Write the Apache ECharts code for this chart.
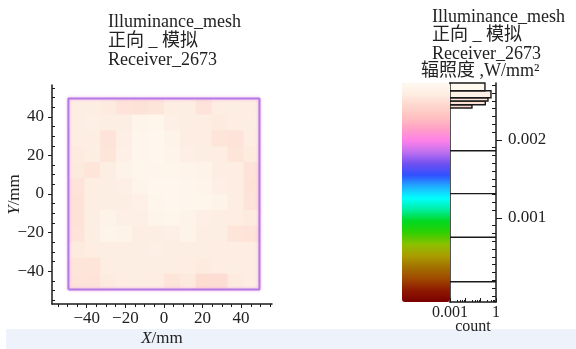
<!DOCTYPE html>
<html>
<head>
<meta charset="utf-8">
<script src="https://cdn.jsdelivr.net/npm/echarts@6/dist/echarts.min.js"></script>
<style>html,body{margin:0;padding:0;background:#fff;}#c{width:576px;height:349px;}</style>
</head>
<body>
<div id="c"></div>
<script>
// ---- data ----
const xCenters = [-45.4, -37.1, -28.9, -20.6, -12.4, -4.1, 4.1, 12.4, 20.6, 28.9, 37.1, 45.4];
const yCenters = [45.4, 37.1, 28.9, 20.6, 12.4, 4.1, -4.1, -12.4, -20.6, -28.9, -37.1, -45.4];
// irradiance W/mm^2, rows top->bottom
const heatValues = [
  [0.00259,0.00260,0.00257,0.00252,0.00251,0.00253,0.00258,0.00259,0.00252,0.00258,0.00259,0.00258],
  [0.00259,0.00261,0.00259,0.00260,0.00267,0.00268,0.00261,0.00259,0.00258,0.00257,0.00258,0.00259],
  [0.00258,0.00260,0.00252,0.00261,0.00269,0.00270,0.00266,0.00260,0.00258,0.00253,0.00252,0.00258],
  [0.00257,0.00259,0.00253,0.00262,0.00269,0.00270,0.00267,0.00261,0.00259,0.00258,0.00253,0.00257],
  [0.00256,0.00253,0.00259,0.00266,0.00268,0.00269,0.00268,0.00267,0.00266,0.00260,0.00258,0.00252],
  [0.00252,0.00258,0.00260,0.00261,0.00267,0.00270,0.00270,0.00269,0.00267,0.00261,0.00258,0.00251],
  [0.00251,0.00258,0.00260,0.00260,0.00262,0.00268,0.00270,0.00269,0.00268,0.00266,0.00259,0.00252],
  [0.00251,0.00259,0.00266,0.00261,0.00261,0.00267,0.00268,0.00266,0.00261,0.00260,0.00258,0.00257],
  [0.00252,0.00259,0.00267,0.00266,0.00260,0.00260,0.00261,0.00266,0.00260,0.00259,0.00253,0.00252],
  [0.00257,0.00258,0.00260,0.00259,0.00260,0.00261,0.00260,0.00259,0.00259,0.00258,0.00258,0.00258],
  [0.00253,0.00253,0.00258,0.00259,0.00259,0.00260,0.00259,0.00258,0.00257,0.00258,0.00259,0.00258],
  [0.00252,0.00252,0.00257,0.00258,0.00259,0.00258,0.00253,0.00256,0.00247,0.00248,0.00257,0.00258]
];
const receiverBounds = [-49.5, 49.5];
const xMajor = [-40, -20, 0, 20, 40];
const xMinor = [-55,-50,-45,-35,-30,-25,-15,-10,-5,5,10,15,25,30,35,45,50,55];
const yMajor = [-40, -20, 0, 20, 40];
const yMinor = [-55,-50,-45,-35,-30,-25,-15,-10,-5,5,10,15,25,30,35,45,50,55];
const histEdgesLow  = [0.00241, 0.00245, 0.00250, 0.00254, 0.00263];
const histEdgesHigh = [0.00245, 0.00250, 0.00254, 0.00263, 0.00273];
const histCounts    = [0.027, 0.2, 0.3, 0.47, 0.19];
const histLineLevels = [0.00018, 0.00075, 0.00131, 0.00186];
const irrMajor = [0.001, 0.002];
const irrMinor = [0.0000,0.0001,0.0002,0.0003,0.0004,0.0005,0.0006,0.0007,0.0008,0.0009,
                  0.0011,0.0012,0.0013,0.0014,0.0015,0.0016,0.0017,0.0018,0.0019,
                  0.0021,0.0022,0.0023,0.0024,0.0025,0.0026,0.0027];
const vMin = -0.00008, vMax = 0.00273;
const palette = ['#7a0000','#8e1800','#a04800','#a27000','#aa9c00','#8cc000','#30d000','#00d820',
  '#00eea0','#00ffff','#20b0ff','#3050ff','#7050f0','#c070f0','#ff80e8','#ffa0c8','#ffc0c0',
  '#fdd6cc','#fdede2','#fff9f0'];

// ---- build ----
const heatData = [];
heatValues.forEach((row, r) => row.forEach((v, c) => heatData.push([xCenters[c], yCenters[r], v])));
const cellSize = 8.25;
const borderData = [
  [receiverBounds[0], receiverBounds[0]], [receiverBounds[1], receiverBounds[0]],
  [receiverBounds[1], receiverBounds[1]], [receiverBounds[0], receiverBounds[1]],
  [receiverBounds[0], receiverBounds[0]]
];
const histData = histCounts.map((c, i) => [c, histEdgesLow[i], histEdgesHigh[i]]);
const histLineData = histLineLevels.map(v => [1, v]);

const FONT = "'Liberation Serif', 'Noto Sans CJK SC', serif";
const ink = '#1a1a1a';
const titleStyle = {fontSize: 18, lineHeight: 18.5, fontFamily: FONT, fontWeight: 'normal', color: '#222'};

const chart = echarts.init(document.getElementById('c'));
chart.setOption({
  animation: false,
  backgroundColor: '#fff',
  title: [
    {left: 108, top: 13, padding: 0, text: 'Illuminance_mesh\n正向 _ 模拟\nReceiver_2673', textStyle: Object.assign({}, titleStyle, {lineHeight: 19})},
    {left: 432, top: 8, padding: 0, text: 'Illuminance_mesh\n正向 _ 模拟\nReceiver_2673', textStyle: titleStyle},
    {left: 421, top: 62, padding: 0, text: '辐照度 ,W/mm²', textStyle: titleStyle}
  ],
  graphic: {
    z: -10,
    elements: [{type: 'rect', z: -10, shape: {x: 6, y: 329, width: 570, height: 20}, style: {fill: '#eef3fb'}}]
  },
  grid: [
    {left: 52, top: 85, width: 220, height: 219, containLabel: false, outerBoundsMode: 'none'},
    {left: 450, top: 83, width: 46, height: 219, containLabel: false, outerBoundsMode: 'none'}
  ],
  xAxis: [
    {gridIndex: 0, type: 'value', position: 'bottom', min: -58, max: 56,
     axisLine: {onZero: false, lineStyle: {color: ink, width: 1.5}},
     axisTick: {customValues: xMajor, length: 4, lineStyle: {color: ink}},
     axisLabel: {customValues: xMajor, fontSize: 17, fontFamily: FONT, color: '#222', margin: 6,
       formatter: v => (v < 0 ? '\u2212' + Math.abs(v) : String(v))},
     splitLine: {show: false},
     name: '{i|X}/mm', nameLocation: 'middle', nameGap: 26, nameMoveOverlap: false,
     nameTextStyle: {fontSize: 17, fontFamily: FONT, color: '#222', rich: {i: {fontStyle: 'italic', fontSize: 17, fontFamily: FONT}}}},
    {gridIndex: 0, type: 'value', position: 'bottom', min: -58, max: 56,
     axisLine: {show: false, onZero: false},
     axisTick: {customValues: xMinor, length: 3, lineStyle: {color: ink}},
     axisLabel: {show: false}, splitLine: {show: false}},
    {gridIndex: 1, type: 'log', position: 'bottom', min: 0.001, max: 1, logBase: 10,
     axisLine: {onZero: false, lineStyle: {color: ink, width: 1.5}},
     axisTick: {inside: true, length: 4, lineStyle: {color: ink}},
     minorTick: {show: true, splitNumber: 5, length: 2, lineStyle: {color: ink}},
     axisLabel: {fontSize: 16, fontFamily: FONT, color: '#222', margin: 3, showMinLabel: true, showMaxLabel: true,
       formatter: v => (Math.abs(v - 0.001) < 1e-6 ? '0.001' : (Math.abs(v - 1) < 1e-6 ? '1' : ''))},
     splitLine: {show: false},
     name: 'count', nameLocation: 'middle', nameGap: 17, nameMoveOverlap: false,
     nameTextStyle: {fontSize: 16, fontFamily: FONT, color: '#222'}}
  ],
  yAxis: [
    {gridIndex: 0, type: 'value', position: 'left', min: -57, max: 56.5,
     axisLine: {onZero: false, lineStyle: {color: ink, width: 1.5}},
     axisTick: {customValues: yMajor, length: 4, lineStyle: {color: ink}},
     axisLabel: {customValues: yMajor, fontSize: 17, fontFamily: FONT, color: '#222', margin: 8,
       formatter: v => (v < 0 ? '\u2212' + Math.abs(v) : String(v))},
     splitLine: {show: false},
     name: '{i|Y}/mm', nameLocation: 'middle', nameGap: 29, nameRotate: 90, nameMoveOverlap: false,
     nameTextStyle: {fontSize: 17, fontFamily: FONT, color: '#222', rich: {i: {fontStyle: 'italic', fontSize: 17, fontFamily: FONT}}}},
    {gridIndex: 0, type: 'value', position: 'left', min: -57, max: 56.5,
     axisLine: {show: false, onZero: false},
     axisTick: {customValues: yMinor, length: 3, inside: true, lineStyle: {color: ink}},
     axisLabel: {show: false}, splitLine: {show: false}},
    {gridIndex: 1, type: 'value', min: vMin, max: vMax, position: 'right',
     axisLine: {onZero: false, lineStyle: {color: ink, width: 1.5}},
     axisTick: {customValues: irrMajor, length: 6, lineStyle: {color: ink}},
     axisLabel: {customValues: irrMajor, fontSize: 17, fontFamily: FONT, color: '#222', margin: 12,
       formatter: v => v.toFixed(3)},
     splitLine: {show: false}},
    {gridIndex: 1, type: 'value', min: vMin, max: vMax, position: 'right',
     axisLine: {show: false, onZero: false},
     axisTick: {customValues: irrMinor, length: 4, inside: true, lineStyle: {color: ink}},
     axisLabel: {show: false}, splitLine: {show: false}},
    {gridIndex: 1, type: 'value', min: vMin, max: vMax, position: 'left',
     axisLine: {onZero: false, lineStyle: {color: ink, width: 1.5}},
     axisTick: {show: false}, axisLabel: {show: false}, splitLine: {show: false}}
  ],
  visualMap: [
    {type: 'continuous', min: vMin, max: vMax, seriesIndex: 0, dimension: 2,
     left: 402, top: 83, itemWidth: 48, itemHeight: 219, padding: 0,
     calculable: false, text: null, showLabel: false, hoverLink: false,
     inRange: {color: palette}},
    {type: 'continuous', show: false, min: vMin, max: vMax, seriesIndex: 2, dimension: 2,
     inRange: {color: palette}}
  ],
  series: [
    {type: 'custom', xAxisIndex: 0, yAxisIndex: 0, data: heatData,
     renderItem: (params, api) => {
       const p = api.coord([api.value(0), api.value(1)]);
       const s = api.size([cellSize, cellSize]);
       return {type: 'rect', shape: {x: p[0] - s[0] / 2, y: p[1] - s[1] / 2, width: s[0] + 0.8, height: s[1] + 0.8},
               style: {fill: api.visual('color')}};
     }},
    {type: 'line', xAxisIndex: 0, yAxisIndex: 0, data: borderData, symbol: 'none', z: 5,
     lineStyle: {color: '#b27be8', width: 2, shadowBlur: 3, shadowColor: '#f3a6e6'}},
    {type: 'custom', xAxisIndex: 2, yAxisIndex: 2, data: histData, z: 3,
     renderItem: (params, api) => {
       const a = api.coord([0.001, api.value(2)]);
       const b = api.coord([api.value(0), api.value(1)]);
       return {type: 'rect', shape: {x: a[0], y: a[1], width: b[0] - a[0], height: b[1] - a[1]},
               style: {fill: api.visual('color'), stroke: ink, lineWidth: 1.4}};
     }},
    {type: 'custom', xAxisIndex: 2, yAxisIndex: 2, data: histLineData, z: 3,
     renderItem: (params, api) => {
       const a = api.coord([0.001, api.value(1)]);
       const b = api.coord([api.value(0), api.value(1)]);
       return {type: 'line', shape: {x1: a[0], y1: a[1], x2: b[0], y2: b[1]},
               style: {stroke: ink, lineWidth: 1.4}};
     }}
  ]
});
</script>
</body>
</html>
